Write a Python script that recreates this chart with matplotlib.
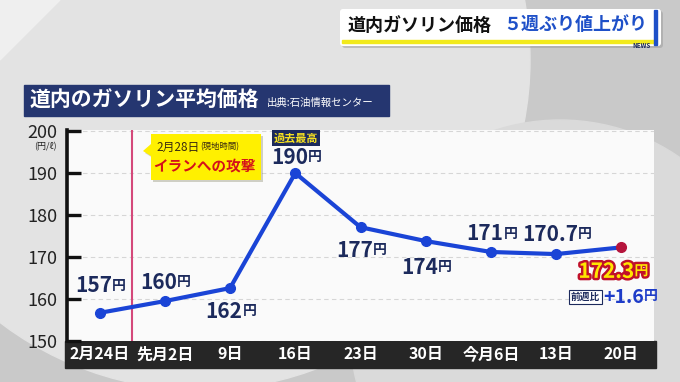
import matplotlib
matplotlib.use('Agg')
import matplotlib.pyplot as plt
import matplotlib.patheffects as pe
from matplotlib.patches import Rectangle, Circle, Polygon, FancyBboxPatch

plt.rcParams['font.family'] = ['Noto Sans CJK JP', 'DejaVu Sans']

# ── データ ──────────────────────────────────────────────
weeks = ['2月24日', '先月2日', '9日', '16日', '23日', '30日', '今月6日', '13日', '20日']
prices = [156.7, 159.5, 162.6, 190.0, 177.1, 173.8, 171.2, 170.7, 172.3]
price_labels = ['157', '160', '162', '190', '177', '174', '171', '170.7', '172.3']
yticks = [150, 160, 170, 180, 190, 200]
attack_pos = 0.5          # 2月28日（2月24日と先月2日の間）
week_change = '+1.6'

# ラベルの上下位置（ピクセル、正=上）
label_dy = [27, 19, -23, 16, -23, -26, 18, 20, -24]

NAVY = '#1c2a5c'
BLUE = '#1a44d6'

fig = plt.figure(figsize=(6.8, 3.82), dpi=100)

# ── 背景（ピクセル座標） ─────────────────────────────────
bg = fig.add_axes([0, 0, 1, 1])
bg.set_xlim(0, 680)
bg.set_ylim(382, 0)
bg.axis('off')
bg.set_zorder(0)
bg.add_patch(Rectangle((0, 0), 680, 382, color='#c9c9c9', zorder=0))
bg.add_patch(Circle((200, 60), 330, color='#e3e3e3', zorder=0.1))
bg.add_patch(Circle((560, 330), 210, color='#dadada', zorder=0.2))
bg.add_patch(Polygon([(0, 0), (60, 0), (0, 60)], color='#efefef', zorder=0.3))

# 見出しボックス
bg.add_patch(FancyBboxPatch((342, 11), 321, 37, boxstyle='round,pad=0,rounding_size=3',
                            fc='#9a9a9a', ec='none', alpha=0.5, zorder=1))
bg.add_patch(FancyBboxPatch((340, 9), 321, 37, boxstyle='round,pad=0,rounding_size=3',
                            fc='white', ec='none', zorder=1.1))
bg.add_patch(Rectangle((342, 39.5), 314, 3.5, color='#f2ea1c', zorder=1.2))
bg.add_patch(Rectangle((654, 10), 3, 35, color='#1e50c8', zorder=1.2))
bg.text(348, 25, '道内ガソリン価格', fontsize=13, fontweight='bold', color='#111111',
        va='center', ha='left', zorder=2)
bg.text(503, 25, '５週ぶり値上がり', fontsize=13, fontweight='bold', color='#1e50c8',
        va='center', ha='left', zorder=2)
bg.text(651, 45, 'NEWS', fontsize=4.5, fontweight='bold', color=NAVY,
        va='center', ha='right', zorder=2)

# タイトルバー
bg.add_patch(Rectangle((24, 85), 365, 31, color='#253670', zorder=1))
bg.text(30, 100.5, '道内のガソリン平均価格', fontsize=15, fontweight='bold',
        color='white', va='center', ha='left', zorder=2)
bg.text(267, 103, '出典:石油情報センター', fontsize=7.5, color='white',
        va='center', ha='left', zorder=2)

# 日付バー
bg.add_patch(Rectangle((65, 341), 591, 27, color='#262626', zorder=1))

# ── グラフ本体 ─────────────────────────────────────────
ax = fig.add_axes([67 / 680, 1 - 341 / 382, (654 - 67) / 680, (341 - 130) / 382])
ax.set_zorder(1)
ax.set_facecolor('#fafafa')
ax.set_xlim(-0.5, 8.5)
ax.set_ylim(150, 200.25)

ax.set_yticks(yticks)
ax.set_yticklabels([str(v) for v in yticks])
ax.grid(axis='y', linestyle=(0, (4, 3)), color='#d6d6d6', linewidth=0.8)
for s in ['top', 'right', 'bottom']:
    ax.spines[s].set_visible(False)
ax.spines['left'].set_linewidth(2.6)
ax.spines['left'].set_color('#111111')
ax.tick_params(axis='y', direction='in', length=10, width=2.4, color='#111111',
               labelsize=13, pad=7, labelcolor='#222222')

ax.set_xticks(range(len(weeks)))
ax.set_xticklabels(weeks, fontweight='bold')
ax.tick_params(axis='x', length=0, pad=9.5, labelsize=11.5, labelcolor='white')
for lab in ax.get_xticklabels():
    lab.set_va('center')

# 単位
ax.annotate('(円/ℓ)', xy=(0, yticks[-1]), xycoords=ax.get_yaxis_transform(),
            xytext=(-10, -16), textcoords='offset pixels', ha='right', va='center',
            fontsize=6.5, color='#222222', annotation_clip=False)

# 攻撃の縦線
ax.axvline(attack_pos, color='#d4487a', linewidth=1.5, zorder=3)

x = list(range(len(prices)))
ax.plot(x, prices, color=BLUE, linewidth=3, marker='o', markersize=7,
        markevery=list(range(len(prices) - 1)), zorder=4, solid_joinstyle='round')
ax.plot(x[-1], prices[-1], 'o', color='#b5143c', markersize=7, zorder=5)

# 値ラベル
for i, (v, lab, dy) in enumerate(zip(prices, price_labels, label_dy)):
    if i == len(prices) - 1:
        eff = [pe.withStroke(linewidth=3.5, foreground='#c0102a')]
        num = ax.annotate(lab, xy=(i, v), xytext=(-15, dy), textcoords='offset pixels',
                          ha='center', va='center', fontsize=15, fontweight='bold',
                          color='#ffe600', path_effects=eff, zorder=6)
        ax.annotate('円', xy=(1, 0.18), xycoords=num, ha='left', va='bottom',
                    fontsize=10, fontweight='bold', color='#ffe600',
                    path_effects=eff, zorder=6)
    else:
        num = ax.annotate(lab, xy=(i, v), xytext=(-6, dy), textcoords='offset pixels',
                          ha='center', va='center', fontsize=15, fontweight='bold',
                          color=NAVY, zorder=6)
        ax.annotate('円', xy=(1, 0.18), xycoords=num, ha='left', va='bottom',
                    fontsize=10, fontweight='bold', color=NAVY, zorder=6)

# 過去最高
peak = prices.index(max(prices))
ax.annotate('過去最高', xy=(peak, prices[peak]), xytext=(1, 35), textcoords='offset pixels',
            ha='center', va='center', fontsize=8, fontweight='bold', color='#f5e020',
            bbox=dict(boxstyle='square,pad=0.15', fc='#1c2a5c', ec='none'), zorder=6,
            annotation_clip=False)

# 前週比
last = len(prices) - 1
ax.annotate('前週比', xy=(last, prices[last]), xytext=(-36, -50), textcoords='offset pixels',
            ha='center', va='center', fontsize=7, fontweight='bold', color=NAVY,
            bbox=dict(boxstyle='square,pad=0.2', fc='white', ec=NAVY, lw=0.8), zorder=6)
chg = ax.annotate(week_change, xy=(last, prices[last]), xytext=(2, -50),
                  textcoords='offset pixels', ha='center', va='center', fontsize=14,
                  fontweight='bold', color='#1e3cc8', zorder=6)
ax.annotate('円', xy=(1, 0.18), xycoords=chg, ha='left', va='bottom',
            fontsize=10, fontweight='bold', color='#1e3cc8', zorder=6)

# ── 攻撃の吹き出し（前面、ピクセル座標） ─────────────────
fg = fig.add_axes([0, 0, 1, 1])
fg.set_xlim(0, 680)
fg.set_ylim(382, 0)
fg.axis('off')
fg.set_zorder(2)
fg.add_patch(Polygon([(153, 136), (263, 136), (263, 182), (153, 182), (153, 158),
                      (145, 153), (153, 146)], closed=True, fc='#808060', alpha=0.35,
                     ec='none'))
fg.add_patch(Polygon([(151, 134), (261, 134), (261, 180), (151, 180), (151, 156),
                      (143, 151), (151, 144)], closed=True, fc='#fff000', ec='none'))
d = fg.text(156, 147, '2月28日', fontsize=8.5, color='#3a2a10', va='center', ha='left')
fg.annotate('(現地時間)', xy=(1, 0.5), xycoords=d, xytext=(1, 0),
            textcoords='offset pixels', fontsize=6, color='#3a2a10',
            va='center', ha='left')
fg.text(153, 166, 'イランへの攻撃', fontsize=10.5, fontweight='bold', color='#d4101a',
        va='center', ha='left')

fig.savefig('out.png', dpi=100)
